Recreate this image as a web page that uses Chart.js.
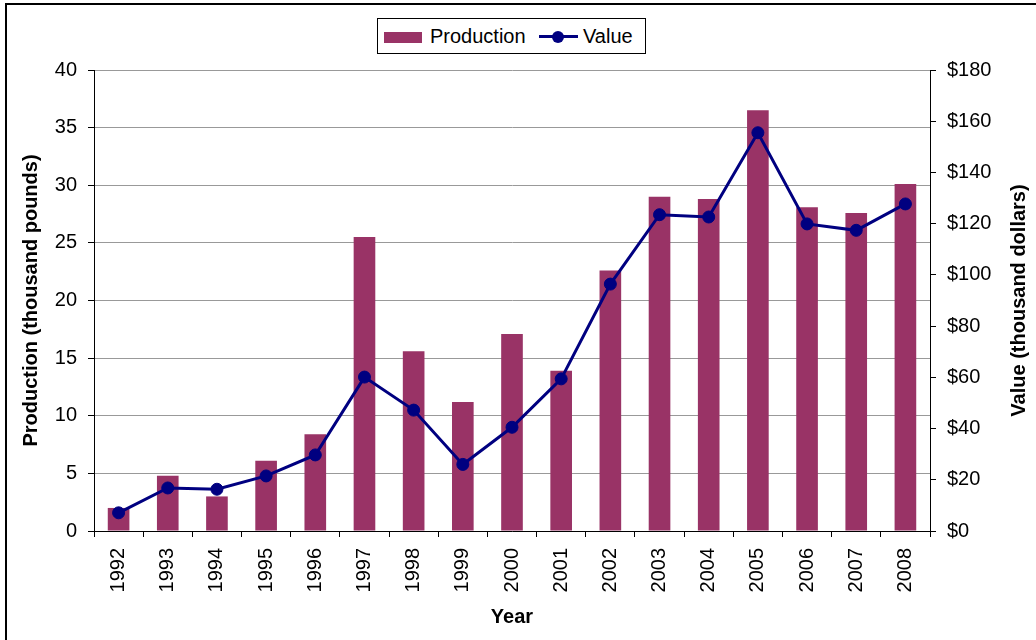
<!DOCTYPE html>
<html>
<head>
<meta charset="utf-8">
<script src="https://cdn.jsdelivr.net/npm/chart.js@4/dist/chart.umd.min.js"></script>
<style>
  html, body { margin: 0; padding: 0; background: #fff; overflow: hidden; }
  #wrap { position: relative; width: 1036px; height: 640px; overflow: hidden; background: #fff; }
  #frame { position: absolute; left: 5px; top: 3px; width: 1100px; height: 700px; border: 2px solid #000; box-sizing: border-box; pointer-events: none; }
  canvas { position: absolute; left: 0; top: 0; }
  #legend { position: absolute; left: 377px; top: 18px; width: 269px; height: 36px; border: 1px solid #000; box-sizing: border-box; background: #fff;
            font-family: "Liberation Sans", Arial, sans-serif; font-size: 20px; color: #000; }
  #legend .sw { position: absolute; left: 6px; top: 13px; width: 38px; height: 11px; background: #993366; }
  #legend .t { position: absolute; top: 5px; line-height: 24px; white-space: nowrap; }
  #legend .ln { position: absolute; left: 161px; top: 16px; width: 39px; height: 3px; background: #000080; }
  #legend .dot { position: absolute; left: 174px; top: 11.5px; width: 12px; height: 12px; border-radius: 50%; background: #000080; }
</style>
</head>
<body>
<div id="wrap">
  <canvas id="c" width="1036" height="640"></canvas>
  <div id="legend">
    <div class="sw"></div><div class="t" style="left:52px">Production</div>
    <div class="ln"></div><div class="dot"></div><div class="t" style="left:205px">Value</div>
  </div>
  <div id="frame"></div>
</div>
<script>
const years = ['1992','1993','1994','1995','1996','1997','1998','1999','2000','2001','2002','2003','2004','2005','2006','2007','2008'];
const production = [2.0, 4.8, 3.0, 6.1, 8.4, 25.5, 15.6, 11.2, 17.1, 13.9, 22.6, 29.0, 28.8, 36.5, 28.1, 27.6, 30.1];
const valueK = [7.1, 16.8, 16.3, 21.5, 29.7, 60.1, 47.2, 26.0, 40.5, 59.4, 96.4, 123.5, 122.6, 155.5, 119.9, 117.4, 127.7];

const leftTitle = 'Production (thousand pounds)';
const rightTitle = 'Value (thousand dollars)';
const xTitle = 'Year';

const FONT = '"Liberation Sans", Arial, Helvetica, sans-serif';
Chart.defaults.font.family = FONT;
Chart.defaults.color = '#000';

const rightTitlePlugin = {
  id: 'rightTitle',
  afterDraw(chart) {
    const ctx = chart.ctx;
    const a = chart.chartArea;
    ctx.save();
    ctx.translate(1019, (a.top + a.bottom) / 2);
    ctx.rotate(-Math.PI / 2);
    ctx.font = 'bold 20px ' + FONT;
    ctx.fillStyle = '#000';
    ctx.textAlign = 'center';
    ctx.textBaseline = 'middle';
    ctx.fillText(rightTitle, 0, 0);
    ctx.restore();
  }
};

new Chart(document.getElementById('c'), {
  data: {
    labels: years,
    datasets: [
      {
        type: 'line', label: 'Value', data: valueK, yAxisID: 'y1', order: 1,
        borderColor: '#000080', borderWidth: 3, tension: 0,
        pointRadius: 6, pointBorderWidth: 1, pointBackgroundColor: '#000080', pointBorderColor: '#000080'
      },
      {
        type: 'bar', label: 'Production', data: production, yAxisID: 'y', order: 2,
        backgroundColor: '#993366', borderWidth: 0,
        barPercentage: 0.44, categoryPercentage: 1.0
      }
    ]
  },
  options: {
    responsive: false,
    animation: false,
    layout: { padding: { top: 70, left: 0, right: 0, bottom: 0 } },
    plugins: { legend: { display: false }, tooltip: { enabled: false } },
    scales: {
      x: {
        type: 'category', offset: true,
        grid: { offset: true, drawOnChartArea: false, drawTicks: true, tickLength: 6, tickColor: '#000' },
        border: { color: '#000', width: 1 },
        ticks: { minRotation: 90, maxRotation: 90, autoSkip: false, padding: 11, font: { size: 20 }, color: '#000' },
        title: { display: true, text: xTitle, font: { size: 20, weight: 'bold' }, color: '#000', padding: { top: 0, bottom: 11 } },
        afterFit(s) { s.height = 109; }
      },
      y: {
        position: 'left', min: 0, max: 40,
        ticks: { stepSize: 5, padding: 11, font: { size: 20 }, color: '#000' },
        grid: { color: '#999999', lineWidth: 1, tickLength: 6, tickColor: '#000' },
        border: { color: '#000', width: 1 },
        title: { display: true, text: leftTitle, font: { size: 20, weight: 'bold' }, color: '#000', padding: { top: 19, bottom: 0 } },
        afterFit(s) { s.width = 94; }
      },
      y1: {
        position: 'right', min: 0, max: 180,
        ticks: { stepSize: 20, padding: 11, font: { size: 20 }, color: '#000', callback: v => '$' + v },
        grid: { drawOnChartArea: false, tickLength: 6, tickColor: '#000' },
        border: { color: '#000', width: 1 },
        afterFit(s) { s.width = 106; }
      }
    }
  },
  plugins: [rightTitlePlugin]
});
</script>
</body>
</html>
